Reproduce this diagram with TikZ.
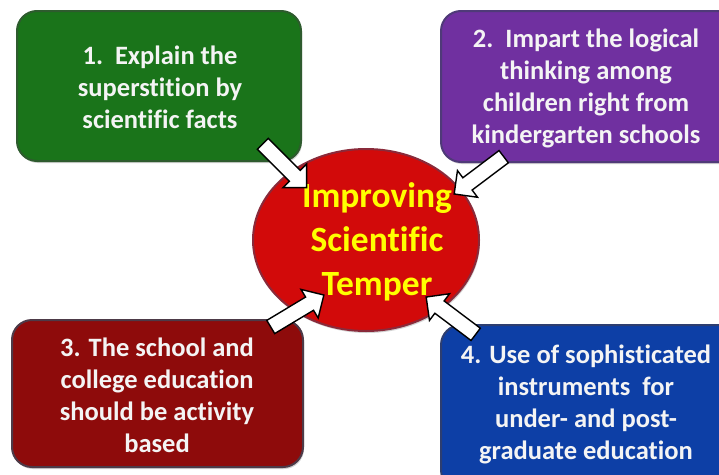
\documentclass[tikz,border=0pt]{standalone}
\usepackage{fontspec}
\setmainfont{Carlito}[Ligatures=NoCommon]
\usetikzlibrary{shapes.geometric,shapes.arrows,shadows}
\definecolor{cgreen}{HTML}{1A741A}
\definecolor{cgreenb}{HTML}{2E5B2E}
\definecolor{cpurple}{HTML}{7030A0}
\definecolor{cpurpleb}{HTML}{4F3A78}
\definecolor{cdred}{HTML}{8E0B0B}
\definecolor{cdredb}{HTML}{4D3A48}
\definecolor{cblue}{HTML}{0D3FA6}
\definecolor{cblueb}{HTML}{2D3E70}
\definecolor{cred}{HTML}{D20A0A}
\definecolor{credb}{HTML}{8A2A3A}
\definecolor{cyel}{HTML}{FFFF00}
\definecolor{ctext}{HTML}{F4F4F4}
\tikzset{
  box/.style={draw, line width=2pt, rounded corners=20pt, drop shadow={shadow xshift=1pt,shadow yshift=-2pt,opacity=0.35}},
  boxtext/.style={text=ctext, font=\fontsize{26.5}{32}\selectfont\bfseries, align=center, inner sep=0pt},
  blockarrow/.style={single arrow, draw=black, fill=white, line width=1.4pt,
    inner xsep=0pt, inner ysep=7pt,
    minimum width=32pt, single arrow head extend=9pt, single arrow head indent=0pt,
    single arrow tip angle=90, minimum height=62pt}
}
\begin{document}
\begin{tikzpicture}[x=1pt,y=-1pt]
\useasboundingbox (0,0) rectangle (719,474);
\clip (0,0) rectangle (719,474);
\fill[white] (0,0) rectangle (719,474);
% boxes
\draw[box, fill=cgreen, draw=cgreenb] (17,11) rectangle (301,161);
\draw[box, fill=cpurple, draw=cpurpleb] (441,11) rectangle (740,162);
\draw[box, fill=cdred, draw=cdredb] (12,320) rectangle (303,467);
\draw[box, fill=cblue, draw=cblueb] (441,325) rectangle (740,490);
\node[boxtext] (t1) at (160,87) {1.\ \ Explain the\\superstition by\\scientific facts};
\node[boxtext] (t2) at (586,88) {2.\ \ Impart the logical\\thinking among\\children right from\\kindergarten schools};
\node[boxtext] (t3) at (157,395) {3. The school and\\college education\\should be activity\\based};
\node[boxtext] (t4) at (586,404) {4. Use of sophisticated\\instruments\ \ for\\under- and post-\\graduate education};
% ellipse
\node[ellipse, draw=credb, line width=2pt, fill=cred, minimum width=226pt, minimum height=182pt,
  drop shadow={shadow xshift=1pt,shadow yshift=-2pt,opacity=0.35}] (c) at (366,240) {};
\node[text=cyel, font=\fontsize{35.5}{44}\selectfont\bfseries, align=center, inner sep=0pt] (ct) at (377,242) {Improving\\Scientific\\Temper};
% arrows
\node[blockarrow, rotate=-45] (a1) at (282,163) {};
\node[blockarrow, rotate=-143] (a2) at (482,173) {};
\node[blockarrow, rotate=31] (a3) at (294,313) {};
\node[blockarrow, rotate=143] (a4) at (454,318) {};
\end{tikzpicture}
\end{document}
